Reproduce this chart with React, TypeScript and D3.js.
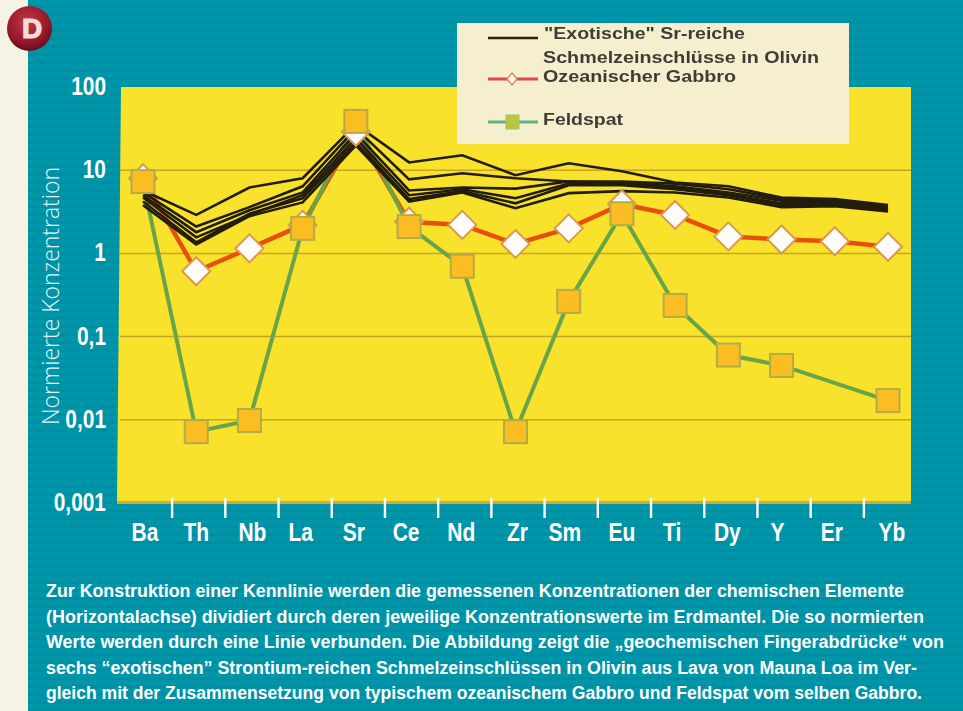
import { useRef, useEffect } from 'react';
import * as d3 from 'd3';

const elements = ['Ba', 'Th', 'Nb', 'La', 'Sr', 'Ce', 'Nd', 'Zr', 'Sm', 'Eu', 'Ti', 'Dy', 'Y', 'Er', 'Yb'];
const yTicks = [100, 10, 1, 0.1, 0.01, 0.001];
const yTickLabels = ['100', '10', '1', '0,1', '0,01', '0,001'];

// six "exotic" melt inclusions
const melt1 = [5.7, 2.9, 6.2, 8.0, 35.5, 12.4, 15.1, 8.7, 12.1, 9.7, 7.1, 6.4, 4.7, 4.5, 3.8];
const melt2 = [5.4, 2.1, 3.6, 6.4, 31.8, 7.75, 9.2, 8.0, 7.3, 7.3, 6.9, 5.9, 4.5, 4.4, 3.7];
const melt3 = [5.0, 1.8, 3.3, 5.4, 27.7, 5.7, 6.2, 6.0, 7.3, 7.1, 6.4, 5.4, 4.3, 4.3, 3.6];
const melt4 = [4.7, 1.56, 2.9, 5.0, 24.1, 5.0, 5.9, 4.6, 6.9, 6.9, 6.2, 5.1, 4.0, 4.1, 3.4];
const melt5 = [4.2, 1.36, 3.0, 4.6, 21.6, 4.5, 5.6, 4.0, 6.6, 6.6, 5.9, 5.0, 3.8, 3.9, 3.3];
const melt6 = [3.8, 1.28, 2.8, 4.1, 19.9, 4.2, 5.4, 3.5, 5.3, 5.6, 5.4, 4.7, 3.6, 3.7, 3.2];
const meltSeries = [melt1, melt2, melt3, melt4, melt5, melt6];

const gabbro = [8, 0.61, 1.15, 2.2, 29, 2.4, 2.2, 1.3, 2.0, 3.9, 2.9, 1.6, 1.47, 1.4, 1.2];
// no Feldspat marker at Er in the original
const feldspat = [7.3, 0.0072, 0.0098, 2.0, 38.6, 2.1, 0.7, 0.0072, 0.265, 3.0, 0.237, 0.06, 0.045, null, 0.017];

const captionLines = [
    'Zur Konstruktion einer Kennlinie werden die gemessenen Konzentrationen der chemischen Elemente',
    '(Horizontalachse) dividiert durch deren jeweilige Konzentrationswerte im Erdmantel. Die so normierten',
    'Werte werden durch eine Linie verbunden. Die Abbildung zeigt die \u201Egeochemischen Fingerabdrücke\u201C von',
    'sechs \u201Cexotischen\u201D Strontium-reichen Schmelzeinschlüssen in Olivin aus Lava von Mauna Loa im Ver-',
    'gleich mit der Zusammensetzung von typischem ozeanischem Gabbro und Feldspat vom selben Gabbro.',
];
const captionWidths = [858, 878, 898, 871, 876];

const sans = '"Liberation Sans", Arial, sans-serif';
const labelNudge = [2, 0, 3, -2, -2, -3, -1, 2, -4, 0, -3, -1, -4, -3, 4];

export default function App() {
    const ref = useRef<SVGSVGElement>(null);

    useEffect(() => {
        const node = ref.current;
        if (!node) return;
        const svg = d3.select(node);
        svg.selectAll('*').remove();

        const x = d3.scalePoint<string>().domain(elements).range([143, 888]);
        const y = d3.scaleLog().domain([0.001, 100]).range([503, 87]);
        const step = x.step();

        const defs = svg.append('defs');
        const stripes = defs.append('pattern')
            .attr('id', 'stripes')
            .attr('width', 8).attr('height', 8)
            .attr('patternUnits', 'userSpaceOnUse');
        stripes.append('rect').attr('width', 8).attr('height', 8).attr('fill', '#0096aa');
        stripes.append('rect').attr('y', 5).attr('width', 8).attr('height', 3).attr('fill', '#008ea3');

        const badge = defs.append('radialGradient')
            .attr('id', 'badge').attr('cx', '45%').attr('cy', '35%').attr('r', '70%');
        badge.append('stop').attr('offset', '0%').attr('stop-color', '#c03a44');
        badge.append('stop').attr('offset', '65%').attr('stop-color', '#96182a');
        badge.append('stop').attr('offset', '100%').attr('stop-color', '#5a0c18');

        // soft look of the scanned original
        defs.append('filter')
            .attr('id', 'soft')
            .append('feGaussianBlur')
            .attr('stdDeviation', 0.6);

        // Background
        svg.append('rect').attr('width', 963).attr('height', 711).attr('fill', '#f5f2e6');
        svg.append('rect').attr('x', 28).attr('width', 935).attr('height', 711).attr('fill', 'url(#stripes)');

        // Badge
        svg.append('circle').attr('cx', 29.5).attr('cy', 28.5).attr('r', 22.5).attr('fill', 'url(#badge)');
        svg.append('text')
            .attr('x', 32).attr('y', 37.5)
            .attr('text-anchor', 'middle')
            .attr('stroke', '#f0dcd8')
            .attr('stroke-width', 1.2)
            .style('font-family', sans)
            .style('font-size', '28px')
            .style('font-weight', 'bold')
            .style('fill', '#f0dcd8')
            .text('D');

        // Plot area, left edge leans slightly in the scan
        const top = y(100);
        const bottom = y(0.001);
        svg.append('path')
            .attr('d', `M121,${top}L911,${top}L911,${bottom}L117,${bottom}Z`)
            .attr('fill', '#f9e22c');
        svg.append('rect')
            .attr('x', 117).attr('y', bottom - 2)
            .attr('width', 794).attr('height', 3)
            .attr('fill', '#c8ae3c');

        // Grid
        svg.append('g').selectAll('line')
            .data(yTicks.slice(1, 5))
            .enter()
            .append('line')
            .attr('x1', 120).attr('x2', 911)
            .attr('y1', d => y(d)).attr('y2', d => y(d))
            .attr('stroke', '#c4a620')
            .attr('stroke-width', 1.5);

        // Y tick labels
        svg.append('g').selectAll('text')
            .data(yTicks)
            .enter()
            .append('text')
            .attr('transform', d => `translate(106,${y(d) + 8}) scale(0.82,1)`)
            .attr('text-anchor', 'end')
            .style('font-family', sans)
            .style('font-size', '25.5px')
            .style('font-weight', 'bold')
            .style('fill', '#fff')
            .text((_, i) => yTickLabels[i]);

        // Y title
        svg.append('text')
            .attr('transform', 'translate(59,425) rotate(-90)')
            .attr('textLength', 258)
            .attr('lengthAdjust', 'spacingAndGlyphs')
            .style('font-family', '"Open Sans", "Noto Sans", sans-serif')
            .style('font-size', '24px')
            .style('font-weight', 300)
            .style('fill', '#e8f4f4')
            .text('Normierte Konzentration');

        // X ticks between the elements
        svg.append('g').selectAll('line')
            .data(elements.slice(0, -1))
            .enter()
            .append('line')
            .attr('x1', d => x(d)! + step / 2 + 2.5).attr('x2', d => x(d)! + step / 2 + 2.5)
            .attr('y1', 498).attr('y2', 518)
            .attr('stroke', '#fff')
            .attr('stroke-width', 2.4);

        // X labels
        svg.append('g').selectAll('text')
            .data(elements)
            .enter()
            .append('text')
            .attr('transform', (d, i) => `translate(${x(d)! + labelNudge[i]},541) scale(0.84,1)`)
            .attr('text-anchor', 'middle')
            .style('font-family', sans)
            .style('font-size', '25px')
            .style('font-weight', 'bold')
            .style('fill', '#fff')
            .text(d => d);

        // Series lines
        const line = d3.line<number>()
            .x((_, i) => x(elements[i])!)
            .y(d => y(d));

        // Feldspat skips Er, the segment runs straight from Y to Yb
        const feldspatPoints = feldspat
            .map((v, i) => ({ el: elements[i], v }))
            .filter(d => d.v !== null) as { el: string; v: number }[];
        const feldspatLine = d3.line<{ el: string; v: number }>()
            .x(d => x(d.el)!)
            .y(d => y(d.v));

        const marks = svg.append('g').attr('filter', 'url(#soft)');

        marks.append('path')
            .attr('d', line(gabbro))
            .attr('fill', 'none')
            .attr('stroke', '#e8500f')
            .attr('stroke-width', 4.5);

        marks.append('path')
            .attr('d', feldspatLine(feldspatPoints))
            .attr('fill', 'none')
            .attr('stroke', '#67a548')
            .attr('stroke-width', 4);

        marks.append('g').selectAll('path')
            .data(meltSeries)
            .enter()
            .append('path')
            .attr('d', d => line(d))
            .attr('fill', 'none')
            .attr('stroke', '#241f10')
            .attr('stroke-width', 2.6);

        marks.append('g').selectAll('path')
            .data(elements.map((el, i) => ({ el, v: gabbro[i] })))
            .enter()
            .append('path')
            .attr('d', 'M0,-14L14,0L0,14L-14,0Z')
            .attr('transform', d => `translate(${x(d.el)},${y(d.v)})`)
            .attr('fill', '#fdfcf8')
            .attr('stroke', '#d99a50')
            .attr('stroke-width', 2);

        marks.append('g').selectAll('rect')
            .data(feldspatPoints)
            .enter()
            .append('rect')
            .attr('x', d => x(d.el)! - 11.5)
            .attr('y', d => y(d.v) - 11.5)
            .attr('width', 23).attr('height', 23)
            .attr('fill', '#fbbd22')
            .attr('stroke', '#b4ac48')
            .attr('stroke-width', 2);

        // Legend
        svg.append('rect')
            .attr('x', 457).attr('y', 23)
            .attr('width', 392).attr('height', 121)
            .attr('fill', '#f6efcf');

        const legend = svg.append('g').attr('filter', 'url(#soft)');

        const legendText = (tx: number, ty: number, w: number, s: string) =>
            legend.append('text')
                .attr('x', tx).attr('y', ty)
                .attr('textLength', w)
                .attr('lengthAdjust', 'spacingAndGlyphs')
                .style('font-family', sans)
                .style('font-size', '16px')
                .style('font-weight', 'bold')
                .style('fill', '#3e3e34')
                .text(s);

        legendText(544, 39, 201, '"Exotische" Sr-reiche');
        legendText(543, 63, 276, 'Schmelzeinschlüsse in Olivin');
        legendText(543, 82, 193, 'Ozeanischer Gabbro');
        legendText(543, 125, 80, 'Feldspat');

        legend.append('line')
            .attr('x1', 488).attr('x2', 538).attr('y1', 38).attr('y2', 38)
            .attr('stroke', '#2a2412').attr('stroke-width', 2.5);
        legend.append('line')
            .attr('x1', 488).attr('x2', 538).attr('y1', 79).attr('y2', 79)
            .attr('stroke', '#e0484a').attr('stroke-width', 3);
        legend.append('path')
            .attr('d', 'M0,-6L5,0L0,6L-5,0Z')
            .attr('transform', 'translate(512,79)')
            .attr('fill', '#fdf8ec').attr('stroke', '#e0805a').attr('stroke-width', 1.2);
        legend.append('line')
            .attr('x1', 488).attr('x2', 538).attr('y1', 122).attr('y2', 122)
            .attr('stroke', '#5fb08c').attr('stroke-width', 3);
        legend.append('rect')
            .attr('x', 506).attr('y', 115).attr('width', 13).attr('height', 14)
            .attr('fill', '#b8c83c').attr('stroke', '#a8c070');

        // Caption
        svg.append('g').selectAll('text')
            .data(captionLines)
            .enter()
            .append('text')
            .attr('x', 46)
            .attr('y', (_, i) => 597 + i * 25.5)
            .attr('textLength', (_, i) => captionWidths[i])
            .attr('lengthAdjust', 'spacingAndGlyphs')
            .style('font-family', sans)
            .style('font-size', '18px')
            .style('font-weight', 'bold')
            .style('fill', '#fff')
            .text(d => d);
    }, []);

    return (
        <svg
            ref={ref}
            width={963}
            height={711}
            style={{ position: 'absolute', left: 0, top: 0, display: 'block' }}
        />
    );
}
